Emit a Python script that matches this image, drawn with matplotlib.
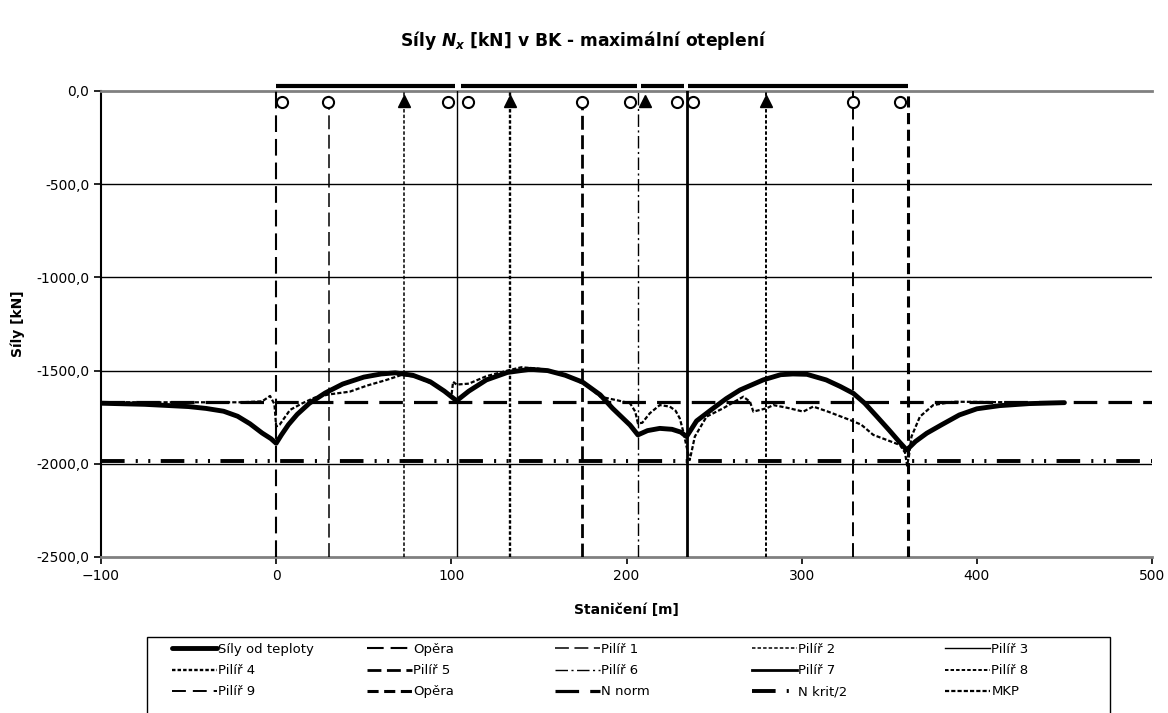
import matplotlib
matplotlib.use("Agg")
import matplotlib.pyplot as plt
from matplotlib.ticker import FuncFormatter, MultipleLocator
from matplotlib.patches import Rectangle

plt.rcParams['font.family'] = ['DejaVu Sans']
plt.rcParams['mathtext.fontset'] = 'custom'
plt.rcParams['mathtext.it'] = 'DejaVu Sans:italic:bold'
plt.rcParams['mathtext.rm'] = 'DejaVu Sans:bold'
plt.rcParams['lines.scale_dashes'] = False

# ---------------- data ----------------
# main curve: forces from temperature
temp_x = [-100, -75, -50, -40, -30, -22, -15, -8, -3, 0, 3, 7, 12, 19, 28, 38, 50, 60, 68, 78,
          88, 96, 103, 110, 120, 132, 145, 155, 165, 175, 185, 192, 202, 206.5, 212, 219, 226,
          231, 234.3, 240, 249.5, 257, 264.8, 278, 288, 295, 303, 314, 322, 329.5, 336, 343,
          350, 356, 360, 365, 371.4, 380, 390, 400, 413, 430, 450]
temp_y = [-1675, -1681, -1693, -1703, -1718, -1745, -1785, -1835, -1865, -1890, -1845, -1790,
          -1735, -1675, -1620, -1572, -1535, -1518, -1512, -1525, -1560, -1610, -1662, -1610,
          -1550, -1510, -1493, -1500, -1525, -1562, -1630, -1702, -1792, -1845, -1822, -1810,
          -1815, -1830, -1854, -1770, -1702, -1650, -1604, -1550, -1522, -1518, -1520, -1550,
          -1585, -1622, -1675, -1747, -1820, -1885, -1926, -1880, -1836, -1790, -1738, -1705,
          -1688, -1677, -1672]

# MKP (FEM) results
mkp_x = [-100, -20, -8, -3.5, -1, 0, 2, 7.9, 15, 22, 30, 42, 52, 63, 72, 80, 90, 97, 100, 101,
         103, 110, 120, 132, 140, 150, 160, 170, 178, 185, 195, 202, 205, 206.5, 209, 213.3, 219,
         224.7, 228, 230.4, 232.5, 234.3, 236.1, 237.5, 239, 245.7, 255.2, 262, 266.7, 270.5,
         272.4, 276.2, 280, 283.8, 292, 300.9, 306.6, 315, 327.6, 334, 340.9, 348, 356.1, 359,
         360.2, 361.2, 362.7, 367.5, 375.1, 386.6, 400, 420]
mkp_y = [-1670, -1670, -1665, -1636, -1680, -1800, -1790, -1711, -1675, -1645, -1628, -1613,
         -1580, -1550, -1522, -1535, -1575, -1620, -1640, -1560, -1575, -1570, -1530, -1500,
         -1482, -1490, -1510, -1545, -1585, -1640, -1660, -1675, -1720, -1783, -1780, -1729,
         -1685, -1693, -1715, -1756, -1830, -1908, -1980, -1920, -1854, -1747, -1702, -1665,
         -1640, -1667, -1720, -1711, -1702, -1685, -1700, -1720, -1693, -1720, -1765, -1790,
         -1845, -1870, -1899, -1940, -2010, -1960, -1854, -1747, -1685, -1667, -1668, -1670]

# supports (abutments and piers)
support_names = ["Opěra", "Pilíř 1", "Pilíř 2", "Pilíř 3", "Pilíř 4", "Pilíř 5", "Pilíř 6",
                 "Pilíř 7", "Pilíř 8", "Pilíř 9", "Opěra"]
support_x = [0, 30, 73, 103.4, 133.5, 174.4, 206.3, 234.3, 279.6, 329.5, 360.5]

# bearings
free_bearing_x = [3.1, 29.8, 98.3, 109.7, 174.4, 202, 228.6, 238.1, 329.5, 356.1]
free_bearing_y = -57
fixed_bearing_x = [73, 133.5, 210.6, 279.6]
fixed_bearing_y = -52

# deck segments
deck_start = [0, 105.3, 208, 235.2]
deck_end = [102.1, 205.8, 233, 360.5]
deck_y = 25

n_norm = -1670
n_krit_half = -1985

# ---------------- styles ----------------
support_styles = [
    dict(lw=1.5, ls=(0, (12, 5))),
    dict(lw=1.1, ls=(0, (10, 4))),
    dict(lw=1.1, ls=(0, (2.5, 1.5))),
    dict(lw=1.0, ls='-'),
    dict(lw=1.7, ls=(0, (2.5, 1.5))),
    dict(lw=2.0, ls=(0, (10, 4))),
    dict(lw=1.0, ls=(0, (9, 2.5, 1.5, 2.5))),
    dict(lw=2.0, ls='-'),
    dict(lw=1.4, ls=(0, (2.5, 1.5))),
    dict(lw=1.4, ls=(0, (10, 5))),
    dict(lw=2.2, ls=(0, (8, 4))),
]

W, H = 1168, 713
fig = plt.figure(figsize=(W / 100, H / 100), dpi=100)
ax = fig.add_axes([101 / W, 1 - 557 / H, (1152 - 101) / W, (557 - 91) / H])

ax.set_xlim(-100, 500)
ax.set_ylim(-2500, 0)

for yg in [-500, -1000, -1500, -2000]:
    ax.axhline(yg, color='black', lw=1.0, zorder=1)

h = ax.plot(temp_x, temp_y, color='black', lw=3.5, solid_capstyle='round',
            solid_joinstyle='round', zorder=6, label='Síly od teploty')[0]
legend_lines = [h]

for name, xs, st in zip(support_names, support_x, support_styles):
    ln = ax.axvline(xs, color='black', zorder=3, label=name, **st)
    legend_lines.append(ln)

hn = ax.axhline(n_norm, color='black', lw=2.3, ls=(0, (17, 8)), zorder=4, label='N norm')
hk = ax.axhline(n_krit_half, color='black', lw=2.8,
                ls=(0, (17, 8, 1.5, 7.5, 1.5, 7.5)), zorder=4, label='N krit/2')
hm = ax.plot(mkp_x, mkp_y, color='black', lw=1.6, ls=(0, (3, 1.5)), zorder=5, label='MKP')[0]
legend_lines += [hn, hk, hm]

ax.plot(free_bearing_x, [free_bearing_y] * len(free_bearing_x), ls='none', marker='o',
        ms=8, mfc='white', mec='black', mew=1.5, zorder=7, clip_on=False)
ax.plot(fixed_bearing_x, [fixed_bearing_y] * len(fixed_bearing_x), ls='none', marker='^',
        ms=9, color='black', zorder=7, clip_on=False)

for s, e in zip(deck_start, deck_end):
    ax.plot([s, e], [deck_y, deck_y], color='black', lw=3.0, solid_capstyle='butt',
            clip_on=False, zorder=7)

# axes styling
ax.spines['right'].set_visible(False)
ax.spines['top'].set_color('#808080')
ax.spines['top'].set_linewidth(2)
ax.spines['bottom'].set_color('#808080')
ax.spines['bottom'].set_linewidth(2)
ax.spines['left'].set_color('black')
ax.spines['left'].set_linewidth(1.5)

ax.xaxis.set_major_locator(MultipleLocator(100))
ax.yaxis.set_major_locator(MultipleLocator(500))
ax.yaxis.set_major_formatter(FuncFormatter(lambda v, p: f"{v:.1f}".replace('.', ',')))
ax.tick_params(axis='both', direction='out', length=5, width=1.2, labelsize=10,
               colors='black')
ax.tick_params(axis='x', pad=4)

ax.set_xlabel('Staničení [m]', fontsize=10, fontweight='bold', labelpad=14)
ax.set_ylabel('Síly [kN]', fontsize=10, fontweight='bold', labelpad=8)

fig.text(0.5, 1 - 41 / H, r'Síly $N_x$ [kN] v BK - maximální oteplení', ha='center',
         va='center', fontsize=12.3, fontweight='bold')

# legend: 5 equally spaced columns, row-major order as displayed
ncol = 5
nrow = 3
labels = [l.get_label() for l in legend_lines]
col_left_px = [172, 367, 555, 752, 945]
for c in range(ncol):
    idx = [r * ncol + c for r in range(nrow)]
    fig.legend([legend_lines[i] for i in idx], [labels[i] for i in idx],
               loc='upper left', bbox_to_anchor=(col_left_px[c] / W, 1 - 643 / H),
               frameon=False, borderpad=0, borderaxespad=0, fontsize=9.5,
               handlelength=3.4, handletextpad=0.12, labelspacing=0.62)
fig.patches.append(Rectangle((147 / W, -0.02), (1110 - 147) / W, 0.02 + 1 - 637 / H,
                             transform=fig.transFigure, fill=False, edgecolor='black',
                             lw=1.0))

fig.savefig('out.png', dpi=100)
